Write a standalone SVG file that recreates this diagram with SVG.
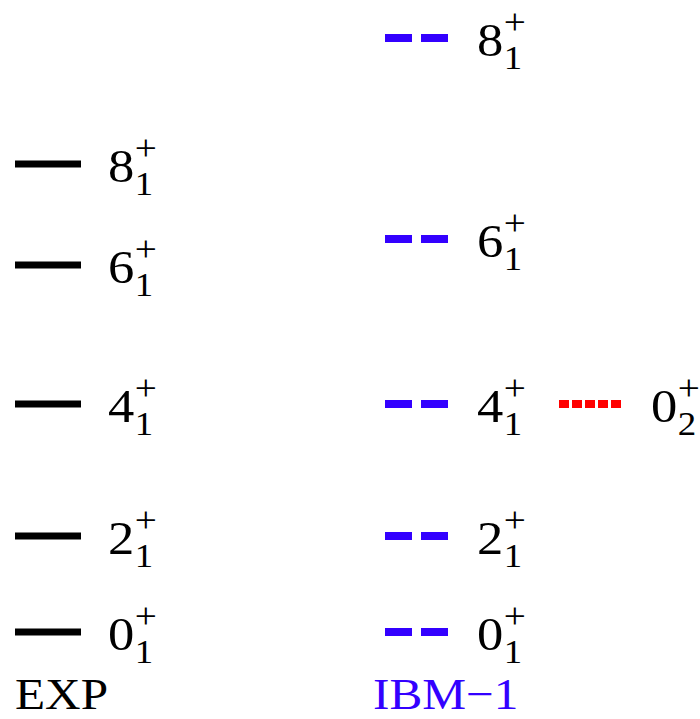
<svg xmlns="http://www.w3.org/2000/svg" width="700" height="719" viewBox="0 0 700 719">
<style>
.d{font-size:47px}
.s{font-size:33px}
.p{font-size:35px}
.t{font-size:44px}
.exp{stroke:#000;stroke-width:7;fill:none}
.ibm{stroke:#3300ff;stroke-width:8;stroke-dasharray:27 9;fill:none}
.red{stroke:#ff0000;stroke-width:8;stroke-dasharray:10 3;fill:none}
</style>
<g font-family="Liberation Serif, Times New Roman, Times, serif" fill="#000">
<g id="exp-8"><line class="exp" x1="15" y1="164" x2="81" y2="164"/><g transform="translate(108,164) scale(1.12,1)"><text class="d" x="0" y="18">8</text><text class="p" x="24" y="-4">+</text><text class="s" x="24" y="31">1</text></g></g>
<g id="exp-6"><line class="exp" x1="15" y1="265" x2="81" y2="265"/><g transform="translate(108,265) scale(1.12,1)"><text class="d" x="0" y="18">6</text><text class="p" x="24" y="-4">+</text><text class="s" x="24" y="31">1</text></g></g>
<g id="exp-4"><line class="exp" x1="15" y1="404" x2="81" y2="404"/><g transform="translate(108,404) scale(1.12,1)"><text class="d" x="0" y="18">4</text><text class="p" x="24" y="-4">+</text><text class="s" x="24" y="31">1</text></g></g>
<g id="exp-2"><line class="exp" x1="15" y1="536" x2="81" y2="536"/><g transform="translate(108,536) scale(1.12,1)"><text class="d" x="0" y="18">2</text><text class="p" x="24" y="-4">+</text><text class="s" x="24" y="31">1</text></g></g>
<g id="exp-0"><line class="exp" x1="15" y1="632" x2="81" y2="632"/><g transform="translate(108,632) scale(1.12,1)"><text class="d" x="0" y="18">0</text><text class="p" x="24" y="-4">+</text><text class="s" x="24" y="31">1</text></g></g>
<g id="ibm-8"><line class="ibm" x1="385" y1="38" x2="448" y2="38"/><g transform="translate(477,38) scale(1.12,1)"><text class="d" x="0" y="18">8</text><text class="p" x="24" y="-4">+</text><text class="s" x="24" y="31">1</text></g></g>
<g id="ibm-6"><line class="ibm" x1="385" y1="239" x2="448" y2="239"/><g transform="translate(477,239) scale(1.12,1)"><text class="d" x="0" y="18">6</text><text class="p" x="24" y="-4">+</text><text class="s" x="24" y="31">1</text></g></g>
<g id="ibm-4"><line class="ibm" x1="385" y1="404" x2="448" y2="404"/><g transform="translate(477,404) scale(1.12,1)"><text class="d" x="0" y="18">4</text><text class="p" x="24" y="-4">+</text><text class="s" x="24" y="31">1</text></g></g>
<g id="ibm-2"><line class="ibm" x1="385" y1="536" x2="448" y2="536"/><g transform="translate(477,536) scale(1.12,1)"><text class="d" x="0" y="18">2</text><text class="p" x="24" y="-4">+</text><text class="s" x="24" y="31">1</text></g></g>
<g id="ibm-0"><line class="ibm" x1="385" y1="632" x2="448" y2="632"/><g transform="translate(477,632) scale(1.12,1)"><text class="d" x="0" y="18">0</text><text class="p" x="24" y="-4">+</text><text class="s" x="24" y="31">1</text></g></g>
<g id="red-0-2"><line class="red" x1="559" y1="404" x2="622" y2="404"/><g transform="translate(651,404) scale(1.12,1)"><text class="d" x="0" y="18">0</text><text class="p" x="24" y="-4">+</text><text class="s" x="24" y="31">2</text></g></g>
<g id="exp-label"><text class="t" transform="translate(15,709) scale(1.12,1)">EXP</text></g>
<g id="ibm-label"><text class="t" transform="translate(373,709) scale(1.12,1)" fill="#3300ff">IBM−1</text></g>
</g>
</svg>
